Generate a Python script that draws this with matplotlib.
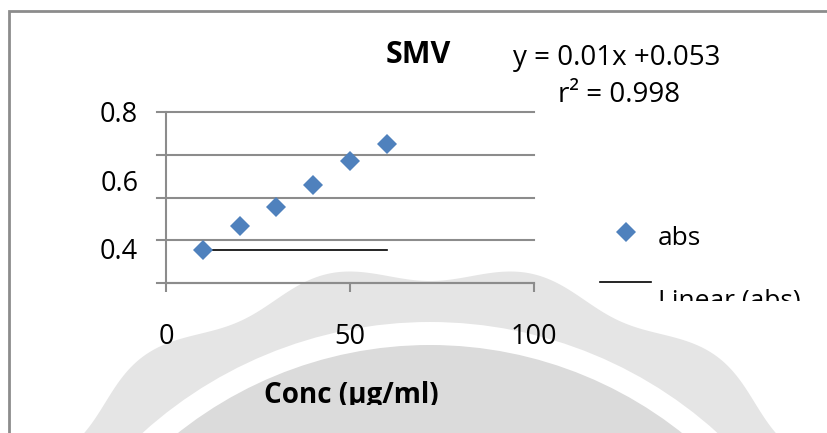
import numpy as np
import matplotlib.pyplot as plt
from matplotlib.lines import Line2D
from matplotlib.patches import Polygon, Circle, Rectangle

# data
conc = [10, 20, 30, 40, 50, 60]
absorbance = [0.396, 0.467, 0.523, 0.587, 0.658, 0.706]
trend_x = [10, 60]
trend_y = [0.396, 0.396]
x_ticks = [0, 50, 100]
y_ticks = [0.4, 0.6, 0.8]
y_tick_labels = ["0.4", "0.6", "0.8"]

W, H = 828, 433
BLUE = "#4f81bd"
GRAY = "#8c8c8c"


def fx(px):
    return px / W


def fy(py):
    return 1 - py / H


plt.rcParams["font.family"] = ["Open Sans", "DejaVu Sans"]
fig = plt.figure(figsize=(8.28, 4.33), dpi=100)

# background: faint watermark and the frame of the chart
bg = fig.add_axes([0, 0, 1, 1], zorder=0)
bg.set_xlim(0, W)
bg.set_ylim(H, 0)
bg.axis("off")
cx, cy = 430, 750
t = np.linspace(0, 2 * np.pi, 900)
r = 478 - 9 * np.cos(15 * t)
bg.add_patch(Polygon(np.column_stack([cx + r * np.sin(t), cy - r * np.cos(t)]),
                     closed=True, color="#e5e5e5", lw=0))
bg.add_patch(Circle((cx, cy), 428, color="white", lw=0))
bg.add_patch(Circle((cx, cy), 405, color="#dbdbdb", lw=0))
bg.plot([9, 9, W + 5], [H + 5, 11, 11], color=GRAY, lw=2, solid_joinstyle="miter")

# the plot itself
ax = fig.add_axes([fx(166), fy(283), fx(534) - fx(166), (283 - 112) / H], zorder=1)
ax.patch.set_alpha(0)
ax.set_xlim(0, 100)
ax.set_ylim(0.3, 0.8)
ax.set_xticks(x_ticks)
ax.set_yticks(y_ticks, y_tick_labels)

# gridlines sit on their own even spacing, each with a short tick to the left
tick_frac = 9 / (534 - 166)
for g in np.linspace(0.3, 0.8, 5):
    ax.axhline(g, xmin=-tick_frac, xmax=1, color=GRAY, lw=1.5, clip_on=False, zorder=1)

ax.tick_params(axis="y", length=0, pad=20, labelsize=19.5)
ax.tick_params(axis="x", length=6.5, width=1.5, color=GRAY, pad=22, labelsize=19.5)
for s in ["top", "right"]:
    ax.spines[s].set_visible(False)
for s in ["left", "bottom"]:
    ax.spines[s].set_color(GRAY)
    ax.spines[s].set_linewidth(1.5)

ax.plot(trend_x, trend_y, color="black", lw=1.2, zorder=3)
ax.plot(conc, absorbance, "D", color=BLUE, ms=10, mew=0, clip_on=False, zorder=4)

# title and fit equation
fig.text(fx(418), fy(63), "SMV", weight="bold", size=22, ha="center", va="baseline")
fig.text(fx(617), fy(65), "y = 0.01x +0.053", size=20, ha="center", va="baseline")
fig.text(fx(619), fy(102), "r\u00b2 = 0.998", size=20, ha="center", va="baseline")

# legend drawn by hand (second entry is cut off in the original)
fig.add_artist(Line2D([fx(626)], [fy(232)], marker="D", ms=10, mew=0, color=BLUE,
                      transform=fig.transFigure))
fig.text(fx(658), fy(245), "abs", size=19, va="baseline")
fig.add_artist(Line2D([fx(600), fx(651)], [fy(282), fy(282)], color="black", lw=1.2,
                      transform=fig.transFigure))
lin = fig.text(fx(658), fy(307), "Linear (abs)", size=19, va="baseline")
lin.set_clip_path(Rectangle((0, fy(301)), 1, 1 - fy(301), transform=fig.transFigure))
lin.set_clip_on(True)

# x axis title, bottom also cut off
xl = fig.text(fx(351), fy(403), "Conc (\u00b5g/ml)", weight="bold", size=20,
              ha="center", va="baseline")
xl.set_clip_path(Rectangle((0, fy(405)), 1, 1 - fy(405), transform=fig.transFigure))
xl.set_clip_on(True)

fig.savefig("out.png", dpi=100)
